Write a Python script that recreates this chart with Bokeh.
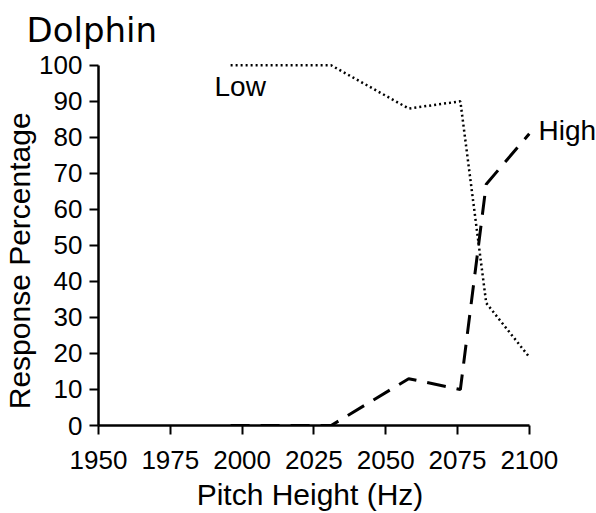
from bokeh.plotting import figure
from bokeh.models import Range1d, FixedTicker, Label, ColumnDataSource
from bokeh.embed import file_html
from bokeh.resources import INLINE

# Data
pitch_hz = [1996, 2031, 2058, 2076, 2085, 2100]
low_pct = [100, 100, 88, 90, 34, 19]
high_pct = [0, 0, 13, 10, 67, 81]
x_ticks = [1950, 1975, 2000, 2025, 2050, 2075, 2100]
y_ticks = [0, 10, 20, 30, 40, 50, 60, 70, 80, 90, 100]

SANS = "Liberation Sans"
TITLE_FONT = "DejaVu Sans"
NB = "\u00a0"

p = figure(width=596, height=513,
           x_range=Range1d(1950, 2123.4), y_range=Range1d(0, 103),
           output_backend="svg", toolbar_location=None,
           min_border_left=97, min_border_top=54, min_border_right=0,
           min_border_bottom=87, title="Dolphin")

p.title.text_font = TITLE_FONT
p.title.text_font_size = "34px"
p.title.text_font_style = "normal"
p.title.text_color = "black"
p.title.align = "left"
p.title.offset = -72
p.title.standoff = 9

p.outline_line_color = None
p.grid.visible = False
p.background_fill_color = "white"
p.border_fill_color = "white"

for ax in (p.xaxis[0], p.yaxis[0]):
    ax.axis_line_width = 2.5
    ax.axis_line_color = "black"
    ax.major_tick_line_width = 2
    ax.major_tick_line_color = "black"
    ax.major_tick_out = 9
    ax.major_tick_in = 0
    ax.minor_tick_line_color = None
    ax.major_label_text_font = SANS
    ax.major_label_text_font_size = "26px"
    ax.major_label_text_color = "black"
    ax.axis_label_text_font = SANS
    ax.axis_label_text_font_style = "normal"
    ax.axis_label_text_color = "black"

p.xaxis.axis_label_text_font_size = "30px"
p.yaxis.axis_label_text_font_size = "30px"
p.xaxis.ticker = FixedTicker(ticks=x_ticks)
p.yaxis.ticker = FixedTicker(ticks=y_ticks)
p.xaxis.bounds = (1950, 2100)
p.yaxis.bounds = (0, 100)
p.xaxis.axis_label = "Pitch Height (Hz)" + NB * 9
p.yaxis.axis_label = "Response Percentage" + NB * 5
p.xaxis.major_label_standoff = 16
p.yaxis.major_label_standoff = 7
p.xaxis.axis_label_standoff = 6
p.yaxis.axis_label_standoff = 0

src = ColumnDataSource(dict(x=pitch_hz, low=low_pct, high=high_pct))
p.line("x", "low", source=src, line_color="black", line_width=2.5, line_dash="2 3")
p.line("x", "high", source=src, line_color="black", line_width=3, line_dash="19 11")

p.add_layout(Label(x=1990.4, y=94.2, text="Low", text_font=SANS, text_font_size="28px",
                   text_baseline="alphabetic", text_color="black"))
p.add_layout(Label(x=2103.2, y=81.8, text="High", text_font=SANS, text_font_size="28px",
                   text_baseline="alphabetic", text_color="black"))

open("out.html", "w").write(file_html(p, INLINE))
